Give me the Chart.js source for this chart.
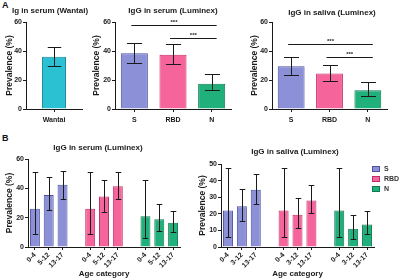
<!DOCTYPE html>
<html>
<head>
<meta charset="utf-8">
<script src="https://cdn.jsdelivr.net/npm/chart.js@4.4.0/dist/chart.umd.min.js"></script>
<style>
  html, body { margin: 0; padding: 0; background: #fff; }
  #fig { position: relative; width: 400px; height: 280px; overflow: hidden; }
  #fig canvas { position: absolute; }
  .tag { position: absolute; font: bold 9px 'Liberation Sans', Arial, sans-serif; color: #111; }
</style>
</head>
<body>
<div id="fig">
  <div class="tag" style="left:2px; top:0px">A</div>
  <div class="tag" style="left:2px; top:133px">B</div>
  <canvas id="cA1" width="95" height="135" style="left:0px; top:0px"></canvas>
  <canvas id="cA2" width="150" height="135" style="left:90px; top:0px"></canvas>
  <canvas id="cA3" width="155" height="135" style="left:245px; top:0px"></canvas>
  <canvas id="cB1" width="195" height="145" style="left:0px; top:135px"></canvas>
  <canvas id="cB2" width="207" height="145" style="left:193px; top:135px"></canvas>
</div>
<script>
// --- data (prevalence %, with 95% CI) ---
const wantaiLabels = ['Wantai'];
const wantaiValue = [36];
const wantaiLow = [30];
const wantaiHigh = [43];

const antigenLabels = ['S', 'RBD', 'N'];
const serumValue = [38.5, 37.5, 17.5];
const serumLow = [32, 31, 13];
const serumHigh = [45.5, 44.5, 24];
const salivaValue = [29.5, 24.5, 13];
const salivaLow = [23.5, 19, 9];
const salivaHigh = [36, 30.5, 18.5];

const serumAgeLabels = ['0-4', '5-12', '13-17'];
const salivaAgeLabels = ['0-4', '3-12', '13-17'];

const serumAgeS = [26, 35.5, 42.5];
const serumAgeSLow = [9, 25, 33];
const serumAgeSHigh = [51, 47.5, 52];
const serumAgeRBD = [26, 34.5, 41.5];
const serumAgeRBDLow = [9, 24, 32.5];
const serumAgeRBDHigh = [51, 46, 51];
const serumAgeN = [21, 19, 16.5];
const serumAgeNLow = [6, 11, 10.5];
const serumAgeNHigh = [45.5, 29.5, 24.5];

const salivaAgeS = [22, 24.5, 34.5];
const salivaAgeSLow = [6, 15.5, 26];
const salivaAgeSHigh = [47.5, 35, 44];
const salivaAgeRBD = [22, 19.5, 28];
const salivaAgeRBDLow = [6, 11.5, 20.5];
const salivaAgeRBDHigh = [47.5, 29.5, 37.5];
const salivaAgeN = [22, 11, 13.5];
const salivaAgeNLow = [6, 5, 8];
const salivaAgeNHigh = [47.5, 19.5, 21.5];

const serumTicks = [0, 20, 40, 60];
const salivaAgeTicks = [0, 10, 20, 30, 40, 50];

const FONT = "'Liberation Sans', Arial, sans-serif";
const INK = '#1a1a1a';
const teal = { bg: '#2cc0d3', line: '#1b8798' };
const colS = { bg: '#8b90d7', line: '#4b509f' };
const colRBD = { bg: '#f5649a', line: '#c02d69' };
const colN = { bg: '#20b07b', line: '#127a52' };

// error bars from dataset.low / dataset.high
const errorBars = {
  id: 'errorBars',
  afterDatasetsDraw(chart) {
    const ctx = chart.ctx, y = chart.scales.y;
    ctx.save();
    ctx.strokeStyle = INK;
    ctx.lineWidth = 1;
    chart.data.datasets.forEach((ds, i) => {
      const meta = chart.getDatasetMeta(i);
      meta.data.forEach((bar, j) => {
        if (ds.low == null || ds.low[j] == null) return;
        const x = Math.round(bar.x) + 0.5;
        const cap = bar.width * 0.28;
        const yl = Math.round(y.getPixelForValue(ds.low[j])) + 0.5;
        const yh = Math.round(y.getPixelForValue(ds.high[j])) + 0.5;
        ctx.beginPath();
        ctx.moveTo(x, yl); ctx.lineTo(x, yh);
        ctx.moveTo(x - cap, yl); ctx.lineTo(x + cap, yl);
        ctx.moveTo(x - cap, yh); ctx.lineTo(x + cap, yh);
        ctx.stroke();
      });
    });
    ctx.restore();
  }
};

// significance brackets between bars
const brackets = {
  id: 'brackets',
  afterDatasetsDraw(chart, args, opts) {
    if (!opts.items) return;
    const ctx = chart.ctx, y = chart.scales.y;
    const bars = chart.getDatasetMeta(0).data;
    ctx.save();
    ctx.strokeStyle = INK;
    ctx.fillStyle = INK;
    ctx.lineWidth = 1;
    ctx.font = 'bold 6px ' + FONT;
    ctx.textAlign = 'center';
    ctx.textBaseline = 'bottom';
    opts.items.forEach(b => {
      const x1 = bars[b.from].x - 3, x2 = bars[b.to].x + 5;
      const yy = Math.round(y.getPixelForValue(b.value)) + 0.5;
      ctx.beginPath();
      ctx.moveTo(x1, yy); ctx.lineTo(x2, yy);
      ctx.stroke();
      ctx.fillText('***', (x1 + x2) / 2, yy - 0.5);
    });
    ctx.restore();
  }
};

// panel title at a fixed spot
const panelTitle = {
  id: 'panelTitle',
  afterDraw(chart, args, opts) {
    const ctx = chart.ctx;
    ctx.save();
    ctx.fillStyle = INK;
    ctx.font = 'bold 8px ' + FONT;
    ctx.textAlign = 'center';
    ctx.textBaseline = 'middle';
    ctx.fillText(opts.text, opts.x, opts.y);
    ctx.restore();
  }
};

// small legend on the right
const sideLegend = {
  id: 'sideLegend',
  afterDraw(chart, args, opts) {
    if (!opts.show) return;
    const ctx = chart.ctx;
    ctx.save();
    ctx.font = 'bold 7px ' + FONT;
    ctx.textBaseline = 'middle';
    chart.data.datasets.forEach((ds, i) => {
      const yy = opts.y + i * opts.gap;
      ctx.fillStyle = ds.backgroundColor;
      ctx.strokeStyle = ds.borderColor;
      ctx.lineWidth = 1;
      ctx.fillRect(opts.x, yy - 2.5, 8, 5);
      ctx.strokeRect(opts.x + 0.5, yy - 2.5, 7, 5);
      ctx.fillStyle = '#333';
      ctx.fillText(ds.label, opts.x + 12, yy);
    });
    ctx.restore();
  }
};

function makePanel(id, cfg) {
  const xTicks = {
    color: INK, font: { family: FONT, size: 7, weight: 'bold' },
    padding: cfg.xPad, autoSkip: false,
    maxRotation: cfg.rot, minRotation: cfg.rot
  };
  new Chart(document.getElementById(id), {
    type: 'bar',
    data: { labels: cfg.labels, datasets: cfg.datasets },
    options: {
      responsive: false,
      animation: false,
      layout: { padding: { top: cfg.padTop, right: cfg.padRight, left: 0, bottom: 0 } },
      datasets: { bar: { skipNull: true, categoryPercentage: 1, barPercentage: cfg.barPct, borderWidth: 1 } },
      scales: {
        x: {
          ticks: xTicks,
          grid: {
            offset: false, drawOnChartArea: false, tickLength: 3,
            tickColor: c => (c.tick && c.tick.label === '') ? 'rgba(0,0,0,0)' : INK
          },
          border: { color: INK, width: 1 },
          title: {
            display: !!cfg.xTitle, text: cfg.xTitle || '', color: INK,
            font: { family: FONT, size: 8, weight: 'bold' }, padding: { top: 0, bottom: 1 }
          },
          afterFit(s) { s.height = cfg.xh; }
        },
        y: {
          min: 0, max: cfg.yTicks[cfg.yTicks.length - 1],
          afterBuildTicks(s) { s.ticks = cfg.yTicks.map(v => ({ value: v })); },
          ticks: { color: INK, font: { family: FONT, size: 7, weight: 'bold' }, padding: 1 },
          grid: { drawOnChartArea: false, tickLength: 3, color: INK },
          border: { color: INK, width: 1 },
          title: {
            display: true, text: 'Prevalence (%)', color: INK,
            font: { family: FONT, size: 8.5, weight: 'bold' }, padding: { top: cfg.yTitlePad, bottom: 0 }
          },
          afterFit(s) { s.width = cfg.yw; }
        }
      },
      plugins: {
        legend: { display: false },
        tooltip: { enabled: false },
        panelTitle: { text: cfg.title, x: cfg.titleX, y: cfg.titleY },
        brackets: { items: cfg.brackets },
        sideLegend: cfg.legend || { show: false }
      }
    },
    plugins: [errorBars, brackets, panelTitle, sideLegend]
  });
}

// spread three age groups of each antigen over 11 slots (gap slot between groups)
function groupedLabels(age) {
  return [...age, '', ...age, '', ...age];
}
function place(vals, group) {
  const out = new Array(11).fill(null);
  vals.forEach((v, k) => { out[group * 4 + k] = v; });
  return out;
}
function ageDatasets(s, sl, sh, r, rl, rh, n, nl, nh) {
  return [
    { label: 'S', data: place(s, 0), low: place(sl, 0), high: place(sh, 0), backgroundColor: colS.bg, borderColor: colS.line },
    { label: 'RBD', data: place(r, 1), low: place(rl, 1), high: place(rh, 1), backgroundColor: colRBD.bg, borderColor: colRBD.line },
    { label: 'N', data: place(n, 2), low: place(nl, 2), high: place(nh, 2), backgroundColor: colN.bg, borderColor: colN.line }
  ];
}

function antigenSet(vals, low, high) {
  return [{
    label: 'IgG', data: vals, low: low, high: high,
    backgroundColor: [colS.bg, colRBD.bg, colN.bg],
    borderColor: [colS.line, colRBD.line, colN.line]
  }];
}

makePanel('cA1', {
  labels: wantaiLabels,
  datasets: [{ label: 'Ig', data: wantaiValue, low: wantaiLow, high: wantaiHigh, backgroundColor: teal.bg, borderColor: teal.line }],
  yTicks: serumTicks, yw: 26, xh: 26, padTop: 22, padRight: 13, yTitlePad: 5,
  barPct: 0.43, rot: 0, xPad: 4,
  title: 'Ig in serum (Wantai)', titleX: 50, titleY: 11
});

makePanel('cA2', {
  labels: antigenLabels,
  datasets: antigenSet(serumValue, serumLow, serumHigh),
  yTicks: serumTicks, yw: 25, xh: 26, padTop: 22, padRight: 9, yTitlePad: 2,
  barPct: 0.7, rot: 0, xPad: 4,
  title: 'IgG in serum (Luminex)', titleX: 83, titleY: 11,
  brackets: [{ from: 0, to: 2, value: 58 }, { from: 1, to: 2, value: 49 }]
});

makePanel('cA3', {
  labels: antigenLabels,
  datasets: antigenSet(salivaValue, salivaLow, salivaHigh),
  yTicks: serumTicks, yw: 27, xh: 26, padTop: 22, padRight: 13, yTitlePad: 5,
  barPct: 0.7, rot: 0, xPad: 4,
  title: 'IgG in saliva (Luminex)', titleX: 87, titleY: 13,
  brackets: [{ from: 0, to: 2, value: 44.5 }, { from: 1, to: 2, value: 36 }]
});

makePanel('cB1', {
  labels: groupedLabels(serumAgeLabels),
  datasets: ageDatasets(serumAgeS, serumAgeSLow, serumAgeSHigh, serumAgeRBD, serumAgeRBDLow, serumAgeRBDHigh, serumAgeN, serumAgeNLow, serumAgeNHigh),
  yTicks: serumTicks, yw: 28, xh: 33, padTop: 24, padRight: 15, yTitlePad: 5,
  barPct: 0.72, rot: 45, xPad: 1, xTitle: 'Age category',
  title: 'IgG in serum (Luminex)', titleX: 98, titleY: 13
});

makePanel('cB2', {
  labels: groupedLabels(salivaAgeLabels),
  datasets: ageDatasets(salivaAgeS, salivaAgeSLow, salivaAgeSHigh, salivaAgeRBD, salivaAgeRBDLow, salivaAgeRBDHigh, salivaAgeN, salivaAgeNLow, salivaAgeNHigh),
  yTicks: salivaAgeTicks, yw: 28, xh: 33, padTop: 29, padRight: 26, yTitlePad: 5,
  barPct: 0.72, rot: 45, xPad: 1, xTitle: 'Age category',
  title: 'IgG in saliva (Luminex)', titleX: 102, titleY: 17,
  legend: { show: true, x: 179, y: 34, gap: 10 }
});
</script>
</body>
</html>
